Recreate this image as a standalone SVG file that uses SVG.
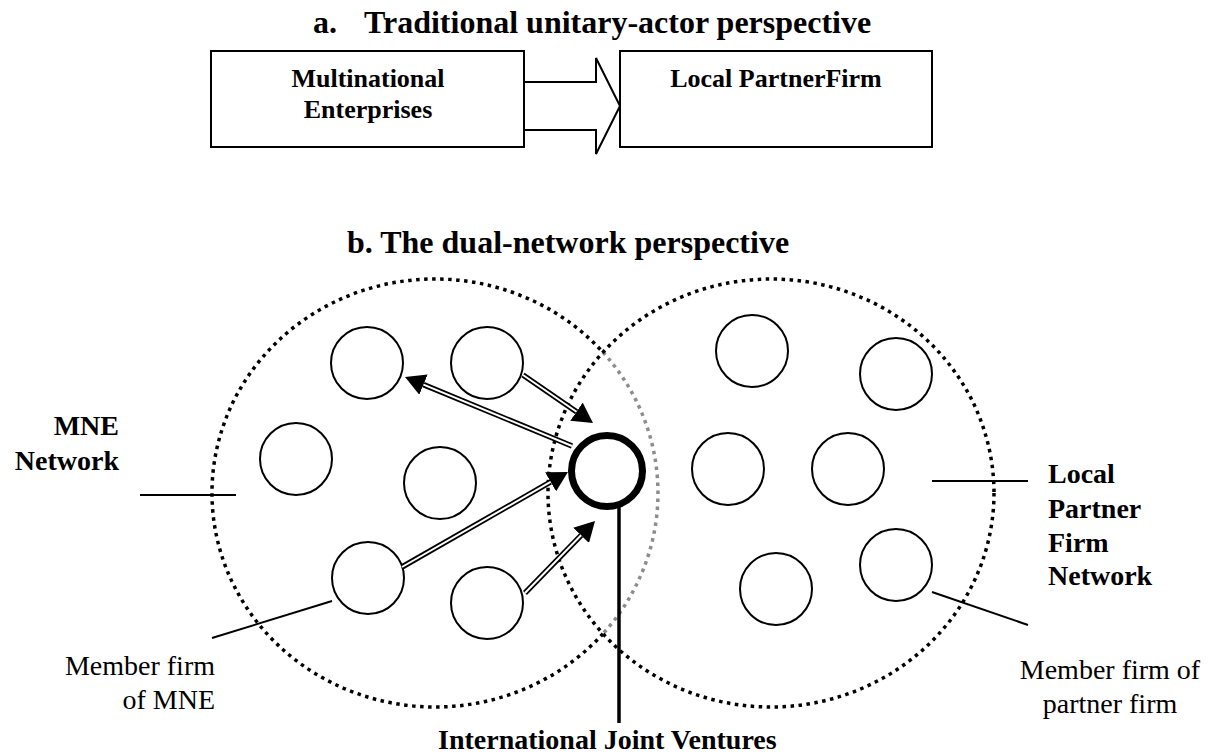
<svg xmlns="http://www.w3.org/2000/svg" width="1230" height="756" viewBox="0 0 1230 756">
<style>
text{font-family:"Liberation Serif","Times New Roman",serif;fill:#000}
.b{font-weight:bold}
.t{font-size:32px;font-weight:bold}
.box{fill:#fff;stroke:#000;stroke-width:2}
.node{fill:#fff;stroke:#000;stroke-width:2}
.jv{fill:#fff;stroke:#000;stroke-width:7}
.net{fill:none;stroke:#000;stroke-width:3.5;stroke-dasharray:3.5 4.5}
.netg{fill:none;stroke:#8c8c8c;stroke-width:3.5;stroke-dasharray:3.5 4.5}
.lead{stroke:#000;stroke-width:2;fill:none}
.dl{stroke:#000;stroke-width:5.5;fill:none;marker-end:url(#head)}
.dw{stroke:#fff;stroke-width:2;fill:none}
</style>
<defs>
<marker id="head" markerUnits="userSpaceOnUse" viewBox="0 0 20 22" refX="0" refY="11" markerWidth="20" markerHeight="22" orient="auto">
<path d="M0,0 L20,11 L0,22 z" fill="#000"/>
</marker>
</defs>
<rect width="1230" height="756" fill="#fff"/>

<g id="title-a"><text class="t" y="33"><tspan x="313">a.</tspan><tspan x="364">Traditional unitary-actor perspective</tspan></text></g>

<g id="mne-box">
<rect class="box" x="211" y="51" width="313" height="96"/>
<text class="b" font-size="26" text-anchor="middle"><tspan x="368" y="87">Multinational</tspan><tspan x="368" y="118">Enterprises</tspan></text>
</g>
<g id="partner-box">
<rect class="box" x="620" y="51" width="312" height="96"/>
<text class="b" font-size="26" text-anchor="middle" x="776" y="87">Local PartnerFirm</text>
</g>
<g id="block-arrow">
<polygon points="524,82 596,82 596,58 620,106 596,154 596,130 524,130" fill="#fff" stroke="#000" stroke-width="2"/>
<line x1="524" y1="83" x2="524" y2="129" stroke="#000" stroke-width="2"/>
</g>

<g id="title-b"><text class="t" x="347" y="253">b. The dual-network perspective</text></g>

<g id="mne-network">
<path class="net" d="M603,633.7 A223,214 0 1,1 603,352.3"/>
<path class="netg" d="M603,352.3 A223,214 0 0,1 603,633.7"/>
</g>
<g id="partner-network">
<ellipse class="net" cx="771" cy="493" rx="223" ry="214"/>
</g>

<g id="mne-members">
<circle class="node" cx="367" cy="363" r="36"/>
<circle class="node" cx="487" cy="363" r="36"/>
<circle class="node" cx="296" cy="459" r="36"/>
<circle class="node" cx="440" cy="483" r="36"/>
<circle class="node" cx="368" cy="578" r="36"/>
<circle class="node" cx="487" cy="603" r="36"/>
</g>
<g id="partner-members">
<circle class="node" cx="752" cy="351" r="36"/>
<circle class="node" cx="896" cy="374" r="36"/>
<circle class="node" cx="728" cy="469" r="36"/>
<circle class="node" cx="848" cy="469" r="36"/>
<circle class="node" cx="776" cy="589" r="36"/>
<circle class="node" cx="896" cy="565" r="36"/>
</g>

<g id="connectors">
<path class="dl" d="M572,446 L423.5,384.6"/>
<path class="dw" d="M572,446 L423.5,384.6"/>
<path class="dl" d="M523,375 L576.5,411.7"/>
<path class="dw" d="M523,375 L576.5,411.7"/>
<path class="dl" d="M402,567 L550.6,481.9"/>
<path class="dw" d="M402,567 L550.6,481.9"/>
<path class="dl" d="M525,593 L581.1,535.3"/>
<path class="dw" d="M525,593 L581.1,535.3"/>
<line class="lead" x1="140" y1="495" x2="236" y2="495"/>
<line class="lead" x1="932" y1="481" x2="1028" y2="481"/>
<line class="lead" x1="212" y1="638" x2="332" y2="601"/>
<line class="lead" x1="932" y1="592" x2="1028" y2="625"/>
<line x1="619" y1="506" x2="619" y2="723" stroke="#000" stroke-width="3.5"/>
</g>

<g id="jv">
<circle class="jv" cx="607" cy="471" r="35.5"/>
</g>

<g id="label-mne">
<text class="b" font-size="28" text-anchor="end"><tspan x="119" y="435">MNE</tspan><tspan x="119" y="470">Network</tspan></text>
</g>
<g id="label-partner">
<text class="b" font-size="28"><tspan x="1048" y="483">Local</tspan><tspan x="1048" y="518">Partner</tspan><tspan x="1048" y="552">Firm</tspan><tspan x="1048" y="585">Network</tspan></text>
</g>
<g id="label-member-mne">
<text font-size="28" text-anchor="end"><tspan x="215" y="675">Member firm</tspan><tspan x="215" y="709">of MNE</tspan></text>
</g>
<g id="label-member-partner">
<text font-size="28" text-anchor="middle"><tspan x="1110" y="679">Member firm of</tspan><tspan x="1110" y="713">partner firm</tspan></text>
</g>
<g id="label-jv">
<text class="b" font-size="28" x="438" y="749">International Joint Ventures</text>
</g>
</svg>
